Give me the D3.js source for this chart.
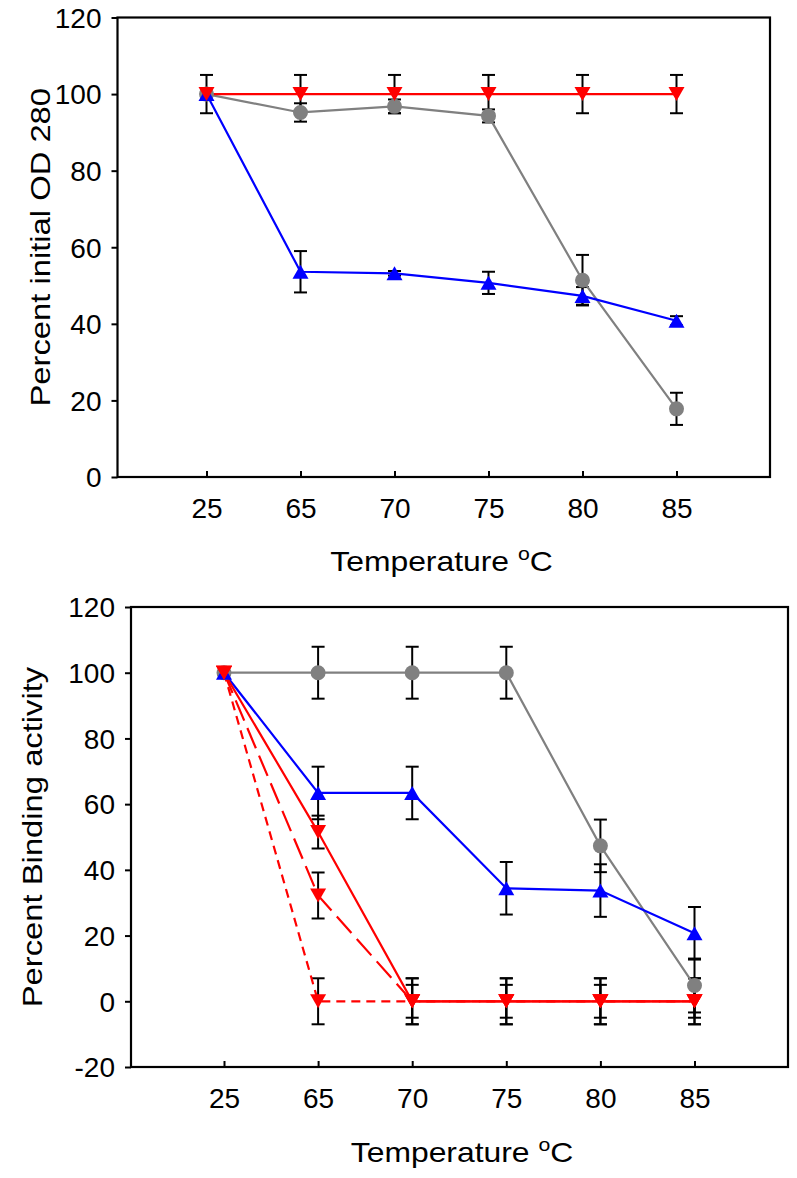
<!DOCTYPE html>
<html>
<head>
<meta charset="utf-8">
<script src="https://cdn.jsdelivr.net/npm/d3@7"></script>
<style>
  html, body { margin: 0; padding: 0; background: #fff; }
  svg { display: block; }
  text { font-family: Arial, "Liberation Sans", sans-serif; fill: #000; }
</style>
</head>
<body>
<div id="chart"></div>
<script>
// ---------- data ----------
const temps = ["25", "65", "70", "75", "80", "85"];
const odTicks = [0, 20, 40, 60, 80, 100, 120];
const bindTicks = [-20, 0, 20, 40, 60, 80, 100, 120];

// Top panel: Percent initial OD 280
const odGray = [100, 95.2, 96.8, 94.3, 51.4, 17.8];
const odGrayErr = [0, 2.4, 1.8, 1.7, 6.6, 4.2];
const odBlue = [100, 53.6, 53.2, 50.7, 47.3, 40.8];
const odBlueErr = [0, 5.4, 0.6, 2.9, 2.3, 1.2];
const odRed = [100, 100, 100, 100, 100, 100];
const odRedErr = [5, 5, 5, 5, 5, 5];

// Bottom panel: Percent Binding activity
const bindGray = [100, 100, 100, 100, 47.3, 4.8];
const bindGrayErr = [0, 7.9, 7.9, 7.9, 8, 8.2];
const bindBlue = [100, 63.4, 63.4, 34.4, 33.7, 20.7];
const bindBlueErr = [0, 8, 8, 8, 8, 8];
const bindRedSolid = [100, 51.5, 0, 0, 0, 0];
const bindRedSolidErr = [0, 5, 5, 5, 5, 5];
const bindRedLong = [100, 32.2, 0, 0, 0, 0];
const bindRedLongErr = [0, 7, 7, 7, 7, 7];
const bindRedShort = [100, 0, 0, 0, 0, 0];
const bindRedShortErr = [0, 7, 7, 7, 7, 7];

// ---------- drawing ----------
const W = 797, H = 1178;
const svg = d3.select("#chart").append("svg").attr("width", W).attr("height", H);

const GRAY = "#808080", BLUE = "#0000ff", RED = "#ff0000";

function markerPath(shape, cx, cy) {
  if (shape === "circle") {
    const p = d3.path(); p.moveTo(cx + 7.5, cy); p.arc(cx, cy, 7.5, 0, 2 * Math.PI); return p.toString();
  }
  const w = 8, h = 7;
  const p = d3.path();
  if (shape === "up") { p.moveTo(cx, cy - h); p.lineTo(cx + w, cy + h); p.lineTo(cx - w, cy + h); }
  else { p.moveTo(cx, cy + h); p.lineTo(cx + w, cy - h); p.lineTo(cx - w, cy - h); }
  p.closePath();
  return p.toString();
}

function drawPanel(cfg) {
  const g = svg.append("g");
  const x = d3.scalePoint().domain(temps).range([cfg.left + cfg.padL, cfg.right - cfg.padR]);
  const y = d3.scaleLinear().domain(cfg.yDomain).range([cfg.bottom, cfg.top]);

  // y axis
  const ya = g.append("g").attr("transform", `translate(${cfg.left},0)`)
    .call(d3.axisLeft(y).tickValues(cfg.yTicks).tickFormat(d => String(d))
      .tickSize(6).tickPadding(10).tickSizeOuter(0));
  ya.select(".domain").remove();
  ya.selectAll("line").attr("stroke", "#000").attr("stroke-width", 2);
  ya.selectAll("text").attr("font-size", 28).attr("font-family", "Arial, 'Liberation Sans', sans-serif").attr("dy", "0.35em");

  // x axis (ticks inward)
  const xa = g.append("g").attr("transform", `translate(0,${cfg.bottom})`)
    .call(d3.axisBottom(x).tickSize(-6).tickPadding(21).tickSizeOuter(0));
  xa.select(".domain").remove();
  xa.selectAll("line").attr("stroke", "#000").attr("stroke-width", 2);
  xa.selectAll("text").attr("font-size", 28).attr("font-family", "Arial, 'Liberation Sans', sans-serif");

  // frame
  g.append("rect").attr("x", cfg.left).attr("y", cfg.top)
    .attr("width", cfg.right - cfg.left).attr("height", cfg.bottom - cfg.top)
    .attr("fill", "none").attr("stroke", "#000").attr("stroke-width", 2.2);

  const pts = s => s.values.map((v, i) => ({ t: temps[i], v, e: s.err[i] }));

  // error bars
  cfg.series.forEach(s => {
    const eg = g.append("g").attr("stroke", "#000").attr("stroke-width", 2).attr("fill", "none");
    pts(s).filter(d => d.e > 0).forEach(d => {
      const cx = x(d.t), y1 = y(d.v + d.e), y2 = y(d.v - d.e);
      eg.append("line").attr("x1", cx).attr("x2", cx).attr("y1", y1).attr("y2", y2);
      eg.append("line").attr("x1", cx - 6.5).attr("x2", cx + 6.5).attr("y1", y1).attr("y2", y1);
      eg.append("line").attr("x1", cx - 6.5).attr("x2", cx + 6.5).attr("y1", y2).attr("y2", y2);
    });
  });

  // lines
  const line = d3.line().x(d => x(d.t)).y(d => y(d.v));
  cfg.series.forEach(s => {
    g.append("path").datum(pts(s)).attr("d", line)
      .attr("fill", "none").attr("stroke", s.color).attr("stroke-width", 2.2)
      .attr("stroke-dasharray", s.dash || null);
  });

  // markers
  cfg.series.forEach(s => {
    g.append("g").selectAll("path").data(pts(s)).join("path")
      .attr("d", d => markerPath(s.shape, x(d.t), y(d.v)))
      .attr("fill", s.color);
  });

  // y title
  g.append("text")
    .attr("transform", `translate(${cfg.yTitleX},${(cfg.top + cfg.bottom) / 2}) rotate(-90) scale(1.17,1)`)
    .attr("text-anchor", "middle").attr("font-size", 28).text(cfg.yTitle);

  // x title
  const xt = g.append("text")
    .attr("transform", `translate(${cfg.xTitleX},${cfg.xTitleY}) scale(1.18,1)`)
    .attr("text-anchor", "middle").attr("font-size", 27);
  xt.append("tspan").text("Temperature ");
  xt.append("tspan").attr("font-size", 18).attr("dy", -11).text("o");
  xt.append("tspan").attr("dy", 11).text("C");
}

drawPanel({
  left: 117.5, right: 770, top: 17.5, bottom: 477, padL: 89, padR: 93.5,
  yDomain: [0, 120], yTicks: odTicks,
  yTitle: "Percent initial OD 280", yTitleX: 50,
  xTitleX: 441.5, xTitleY: 571,
  series: [
    { values: odGray, err: odGrayErr, color: GRAY, shape: "circle" },
    { values: odBlue, err: odBlueErr, color: BLUE, shape: "up" },
    { values: odRed, err: odRedErr, color: RED, shape: "down" }
  ]
});

drawPanel({
  left: 131, right: 788, top: 607, bottom: 1067, padL: 93, padR: 93.5,
  yDomain: [-20, 120], yTicks: bindTicks,
  yTitle: "Percent Binding activity", yTitleX: 42,
  xTitleX: 462, xTitleY: 1162,
  series: [
    { values: bindGray, err: bindGrayErr, color: GRAY, shape: "circle" },
    { values: bindBlue, err: bindBlueErr, color: BLUE, shape: "up" },
    { values: bindRedShort, err: bindRedShortErr, color: RED, shape: "down", dash: "9,6" },
    { values: bindRedLong, err: bindRedLongErr, color: RED, shape: "down", dash: "22,8" },
    { values: bindRedSolid, err: bindRedSolidErr, color: RED, shape: "down" }
  ]
});
</script>
</body>
</html>
